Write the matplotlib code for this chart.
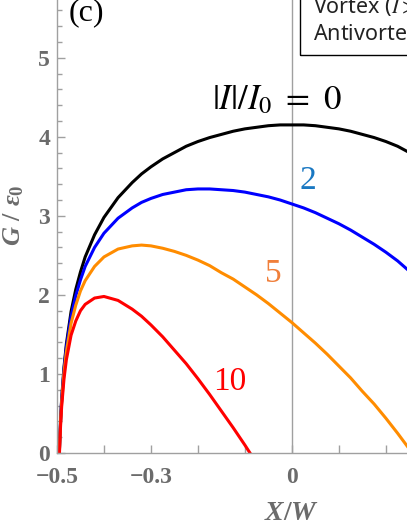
"""Free energy G(X) of a vortex across the strip for several bias currents."""

import matplotlib

matplotlib.use("Agg")
import matplotlib.pyplot as plt
from matplotlib.patches import Rectangle

plt.rcParams["mathtext.fontset"] = "custom"
plt.rcParams["mathtext.it"] = "Liberation Serif:italic:bold"
plt.rcParams["mathtext.rm"] = "Liberation Serif:bold"

# values
x_pos = [-0.495, -0.494, -0.492, -0.49, -0.485, -0.48, -0.47, -0.46, -0.45,
         -0.44, -0.42, -0.40, -0.37, -0.34, -0.32, -0.30, -0.275, -0.25,
         -0.225, -0.20, -0.175, -0.15, -0.125, -0.10, -0.075, -0.05, -0.025,
         0.0, 0.025, 0.05, 0.075, 0.10, 0.125, 0.15, 0.175, 0.20, 0.225, 0.25]
g_i0 = [0.00, 0.18, 0.47, 0.69, 1.09, 1.38, 1.79, 2.07, 2.29, 2.48, 2.76,
        2.98, 3.23, 3.42, 3.53, 3.62, 3.72, 3.80, 3.88, 3.94, 3.99, 4.03,
        4.07, 4.10, 4.12, 4.14, 4.15, 4.15, 4.15, 4.14, 4.12, 4.10, 4.07,
        4.03, 3.99, 3.94, 3.88, 3.80]
g_i2 = [-0.01, 0.17, 0.45, 0.67, 1.06, 1.34, 1.73, 1.99, 2.19, 2.36, 2.60,
        2.78, 2.97, 3.10, 3.17, 3.22, 3.27, 3.30, 3.33, 3.34, 3.34, 3.33,
        3.32, 3.30, 3.27, 3.24, 3.20, 3.15, 3.10, 3.04, 2.97, 2.90, 2.82,
        2.73, 2.64, 2.54, 2.43, 2.30]
g_i5 = [-0.03, 0.15, 0.43, 0.64, 1.02, 1.28, 1.64, 1.87, 2.05, 2.18, 2.36,
        2.48, 2.58, 2.62, 2.63, 2.62, 2.59, 2.55, 2.50, 2.44, 2.37, 2.28,
        2.20, 2.10, 2.00, 1.89, 1.77, 1.65, 1.52, 1.39, 1.25, 1.10, 0.95,
        0.78, 0.62, 0.44, 0.25, 0.05]
g_i10 = [-0.05, 0.12, 0.39, 0.59, 0.94, 1.18, 1.49, 1.67, 1.80, 1.88, 1.96,
         1.98, 1.93, 1.82, 1.73, 1.62, 1.47, 1.30, 1.13, 0.94, 0.74, 0.53,
         0.32, 0.10, -0.13]

CURVES = [
    (g_i0, "black"),
    (g_i2, "#0000ff"),
    (g_i5, "#ff8c00"),
    (g_i10, "#ff0000"),
]
TICK_GRAY = "#6b6b6b"
AXIS_GRAY = "#a0a0a0"

fig = plt.figure(figsize=(4.07, 5.27), dpi=100)
ax = fig.add_axes([0.140, 0.1404, 0.860, 0.8596])

for values, color in CURVES:
    ax.plot(x_pos[: len(values)], values, color=color, lw=2.2)

ax.axvline(0, color=AXIS_GRAY, lw=1.0, zorder=0)

for side in ("top", "right"):
    ax.spines[side].set_visible(False)
for side in ("left", "bottom"):
    ax.spines[side].set_color(AXIS_GRAY)
    ax.spines[side].set_linewidth(1.0)

ax.set_xticks([-0.5, -0.3, 0.0, 0.3])
ax.set_xticklabels(["\u22120.5", "\u22120.3", "0", "0.3"])
ax.set_xticks([-0.4, -0.2, -0.1, 0.1, 0.2], minor=True)
ax.set_yticks([0, 1, 2, 3, 4, 5])
ax.set_yticks([v / 5 for v in range(1, 29) if v % 5], minor=True)

# limits after the ticks, so set_xticks does not widen the view
ax.set_xlim(-0.5, 0.245)
ax.set_ylim(0, 5.73)

for lbl in ax.get_xticklabels() + ax.get_yticklabels():
    lbl.set_fontfamily("Liberation Serif")
    lbl.set_fontweight("bold")
    lbl.set_fontsize(17)
    lbl.set_color(TICK_GRAY)

ax.tick_params(axis="x", which="both", direction="in", length=6, width=1,
               color=AXIS_GRAY, pad=10)
ax.tick_params(axis="y", which="major", direction="in", length=6, width=1,
               color=AXIS_GRAY, pad=5)
ax.tick_params(axis="y", which="minor", direction="in", length=3.5, width=1,
               color=AXIS_GRAY)

fig.text(13 / 407, 1 - 215 / 527, r"$G\ /\ \epsilon_0$", rotation=90,
         ha="center", va="center", fontsize=19, color=TICK_GRAY)
fig.text(292 / 407, 1 - 512 / 527, r"$X/W$", ha="center", va="center",
         fontsize=20, color=TICK_GRAY)

fig.text(86 / 407, 1 - 13 / 527, "(c)", ha="center", va="center",
         fontsize=23, family="Liberation Serif", color="black")

# curve labels
ax.text(-0.032, 4.47, r"$|I|/I_0\ =\ 0$", ha="center", va="center",
        fontsize=25, color="black", math_fontfamily="stix")
ax.text(0.035, 3.44, "2", ha="center", va="center", fontsize=24,
        family="Liberation Serif", color="#1a78c2")
ax.text(-0.04, 2.27, "5", ha="center", va="center", fontsize=24,
        family="Liberation Serif", color="#f07f3a")
ax.text(-0.132, 0.90, "10", ha="center", va="center", fontsize=24,
        family="Liberation Serif", color="#ff0000")

# legend box, cut by the right edge of the figure
fig.add_artist(Rectangle((300 / 407, 1 - 55 / 527), 0.5, 0.2,
                         transform=fig.transFigure, fill=False,
                         edgecolor="black", lw=1.0))
fig.text(313 / 407, 1 - 7 / 527, r"Vortex ($I > 0$)", ha="left",
         va="center", fontsize=15.5, family="Noto Sans", color="#222222",
         math_fontfamily="stix")
fig.text(313 / 407, 1 - 34 / 527, r"Antivortex ($I < 0$)", ha="left",
         va="center", fontsize=15.5, family="Noto Sans", color="#222222",
         math_fontfamily="stix")

fig.savefig("out.png", dpi=100)
